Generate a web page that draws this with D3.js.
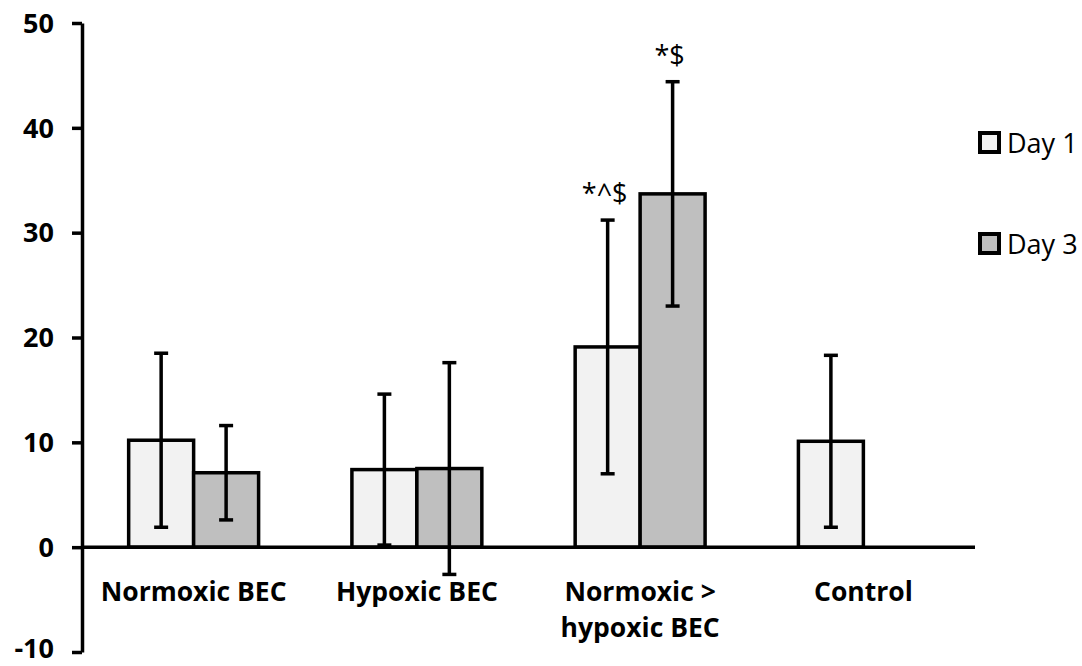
<!DOCTYPE html>
<meta charset="utf-8">
<script src="https://d3js.org/d3.v7.min.js"></script>
<style>
body { margin: 0; background: #fff; }
svg { display: block; }
.tick text, .cat { font-family: "Open Sans", sans-serif; font-weight: 700; fill: #000; }
.legend text, .sig { font-family: "Open Sans", sans-serif; font-weight: 400; fill: #000; }
</style>
<svg width="1082" height="666"></svg>
<script>

// values
var categories = ["Normoxic BEC", "Hypoxic BEC", "Normoxic >\nhypoxic BEC", "Control"];
var series = ["Day 1", "Day 3"];
var day1Mean = [10.2, 7.4, 19.1, 10.1];
var day1Err  = [8.3, 7.2, 12.1, 8.2];
var day3Mean = [7.1, 7.5, 33.7, null];
var day3Err  = [4.5, 10.1, 10.7, null];
var yTicks = [-10, 0, 10, 20, 30, 40, 50];
var day1Sig = [null, null, "*^$", null];
var day3Sig = [null, null, "*$", null];

var colors = { "Day 1": "#f2f2f2", "Day 3": "#bfbfbf" };

var svg = d3.select("svg");

var x0 = d3.scaleBand()
    .domain(categories)
    .range([82, 975])
    .paddingInner(0.418)
    .paddingOuter(0.209);

var x1 = d3.scaleBand()
    .domain(series)
    .range([0, x0.bandwidth()]);

var y = d3.scaleLinear()
    .domain([-10, 50])
    .range([652, 23]);

// flatten into one row per bar
var rows = [];
categories.forEach(function(c, i) {
  rows.push({ cat: c, s: "Day 1", v: day1Mean[i], e: day1Err[i], sig: day1Sig[i] });
  rows.push({ cat: c, s: "Day 3", v: day3Mean[i], e: day3Err[i], sig: day3Sig[i] });
});
rows = rows.filter(function(d) { return d.v != null; });

var g = svg.append("g");

g.selectAll(".bar")
    .data(rows)
  .enter().append("rect")
    .attr("class", "bar")
    .attr("x", function(d) { return x0(d.cat) + x1(d.s); })
    .attr("width", x1.bandwidth())
    .attr("y", function(d) { return y(d.v); })
    .attr("height", function(d) { return y(0) - y(d.v); })
    .attr("fill", function(d) { return colors[d.s]; })
    .attr("stroke", "#000")
    .attr("stroke-width", 3.5);

// error bars
var err = g.selectAll(".err")
    .data(rows)
  .enter().append("g")
    .attr("class", "err")
    .attr("transform", function(d) { return "translate(" + (x0(d.cat) + x1(d.s) + x1.bandwidth() / 2) + ",0)"; })
    .attr("stroke", "#000")
    .attr("stroke-width", 3.5);

err.append("line")
    .attr("y1", function(d) { return y(d.v - d.e); })
    .attr("y2", function(d) { return y(d.v + d.e); });
err.append("line")
    .attr("x1", -7).attr("x2", 7)
    .attr("y1", function(d) { return y(d.v + d.e); })
    .attr("y2", function(d) { return y(d.v + d.e); });
err.append("line")
    .attr("x1", -7).attr("x2", 7)
    .attr("y1", function(d) { return y(d.v - d.e); })
    .attr("y2", function(d) { return y(d.v - d.e); });

// significance marks
g.selectAll(".sig")
    .data(rows.filter(function(d) { return d.sig; }))
  .enter().append("text")
    .attr("class", "sig")
    .attr("x", function(d) { return x0(d.cat) + x1(d.s) + x1.bandwidth() / 2 - 3; })
    .attr("y", function(d) { return y(d.v + d.e) - 17; })
    .attr("text-anchor", "middle")
    .style("font-size", "27px")
    .text(function(d) { return d.sig; });

// x axis line at zero
svg.append("line")
    .attr("x1", 82).attr("x2", 975)
    .attr("y1", y(0)).attr("y2", y(0))
    .attr("stroke", "#000")
    .attr("stroke-width", 3.5);

// y axis
var yAxis = svg.append("g")
    .attr("transform", "translate(82,0)")
    .call(d3.axisLeft(y).tickValues(yTicks).tickSize(10).tickSizeOuter(0).tickPadding(18)
      .tickFormat(function(d) { return String(d); }));
yAxis.select(".domain").attr("stroke-width", 3.5);
yAxis.selectAll(".tick line").attr("stroke-width", 3.5);
yAxis.selectAll(".tick text").style("font-size", "27px")
    .attr("dy", function(d) { return d < 0 ? "0.2em" : "0.34em"; }); // keep bottom label inside the frame

// category labels
svg.selectAll(".cat")
    .data(categories)
  .enter().append("text")
    .attr("class", "cat")
    .attr("text-anchor", "middle")
    .style("font-size", "26.5px")
    .attr("transform", function(d) { return "translate(" + (x0(d) + x0.bandwidth() / 2) + ",601)"; })
    .selectAll("tspan")
    .data(function(d) { return d.split("\n"); })
  .enter().append("tspan")
    .attr("x", 0)
    .attr("y", function(d, i) { return i * 36; })
    .text(function(d) { return d; });

// legend
var legend = svg.selectAll(".legend")
    .data(series)
  .enter().append("g")
    .attr("class", "legend")
    .attr("transform", function(d, i) { return "translate(980," + (133 + i * 101) + ")"; });

legend.append("rect")
    .attr("width", 19).attr("height", 19)
    .attr("fill", function(d) { return colors[d]; })
    .attr("stroke", "#000")
    .attr("stroke-width", 4);

legend.append("text")
    .attr("x", 27)
    .attr("y", 20)
    .style("font-size", "27px")
    .text(function(d) { return d; });

</script>
